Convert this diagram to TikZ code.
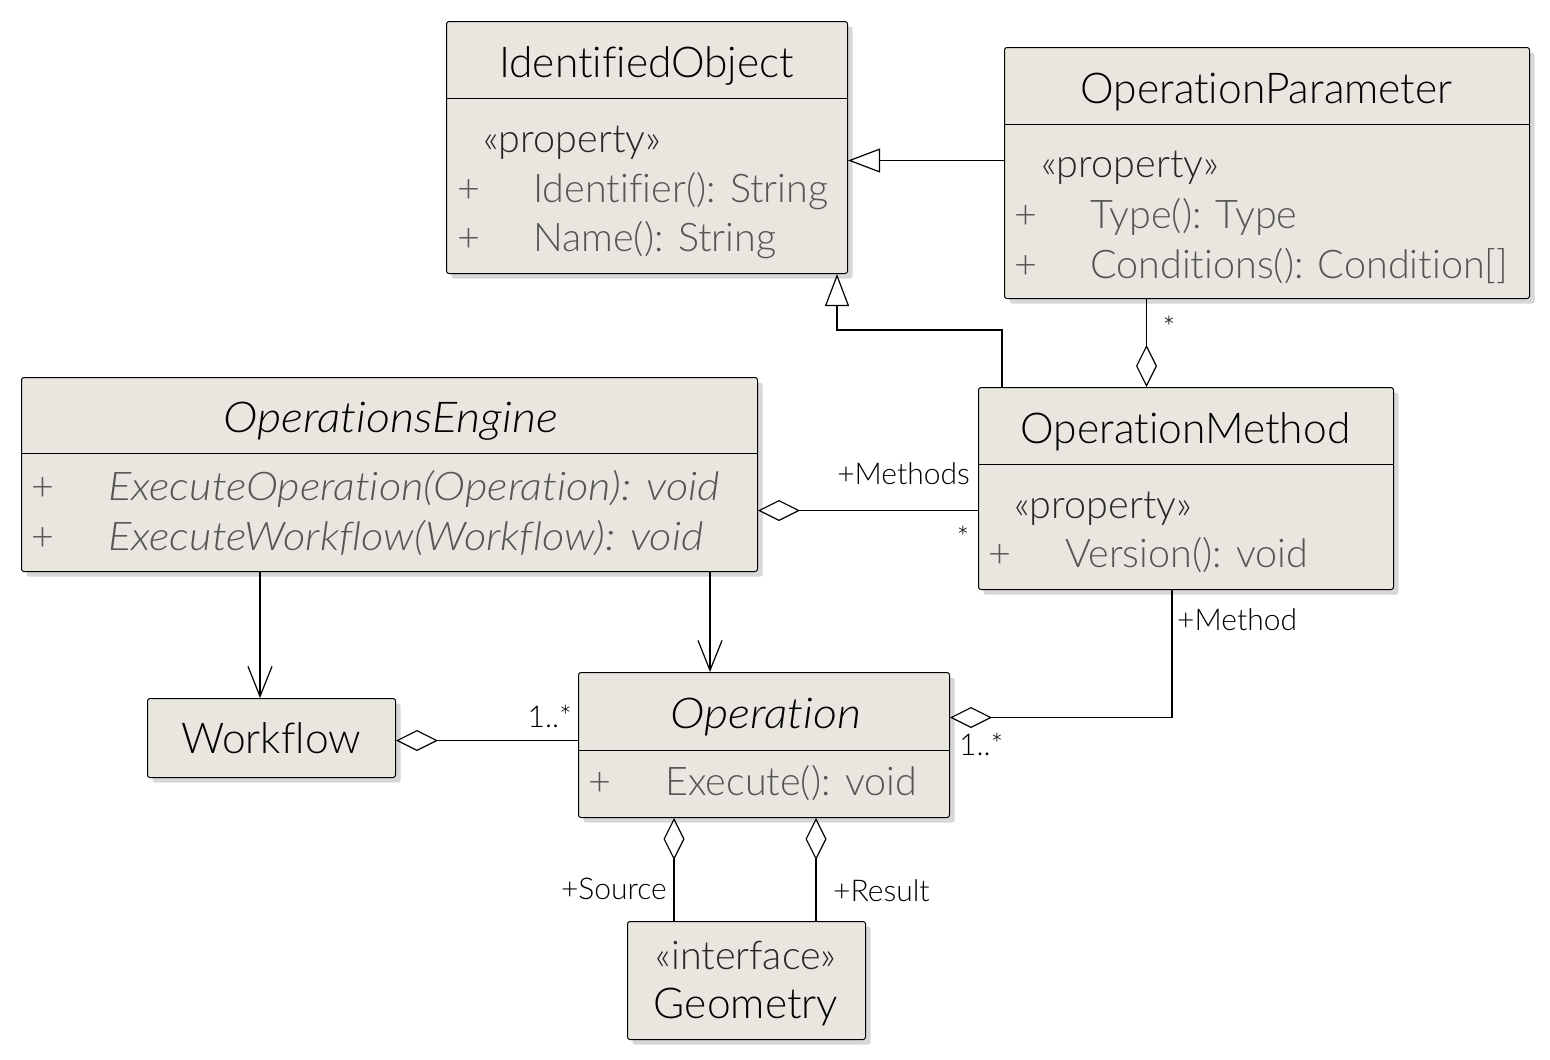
\documentclass[tikz,border=0pt]{standalone}
\usepackage{fontspec}
\setmainfont{Lato}[UprightFont=* Light, ItalicFont=* Light Italic, Ligatures=NoCommon, ItalicFeatures={FakeStretch=1.1}]
\usetikzlibrary{arrows.meta,shadows,calc}
\definecolor{boxfill}{RGB}{233,230,224}
\definecolor{rowgray}{RGB}{85,85,85}
\definecolor{shadowgray}{RGB}{215,215,215}
\begin{document}
\begin{tikzpicture}[x=1pt,y=-1pt,
  umlbox/.style={draw=black, line width=1pt, fill=boxfill, rounded corners=2.5pt, inner sep=0pt, anchor=north west,
    drop shadow={shadow xshift=5pt, shadow yshift=-5pt, opacity=1, fill=shadowgray}},
  sepline/.style={line width=1pt},
  ttl/.style={anchor=base, inner sep=0pt, font=\fontsize{42.5}{46}\selectfont},
  row/.style={anchor=base west, inner sep=0pt, text=rowgray, font=\fontsize{39.5}{42}\selectfont},
  stereo/.style={anchor=base west, inner sep=0pt, text=black!85, font=\fontsize{39.5}{42}\selectfont},
  lbl/.style={inner sep=0pt, font=\fontsize{30}{32}\selectfont},
  conn/.style={line width=1.2pt},
  gen/.style={conn, -{Triangle[open, length=32pt, width=24pt, fill=white]}},
  nav/.style={conn, -{Straight Barb[length=30pt, width=24pt]}},
  aggS/.style={conn, {Diamond[open, length=42pt, width=21pt, fill=white]}-},
]
\useasboundingbox[fill=white] (0,0) rectangle (1550,1060);

% ---- boxes ----
\node[umlbox, minimum width=401pt, minimum height=252pt] (io) at (446,21) {};
\node[umlbox, minimum width=525pt, minimum height=251pt] (opp) at (1004,47) {};
\node[umlbox, minimum width=736pt, minimum height=194pt] (oe) at (21,377) {};
\node[umlbox, minimum width=415pt, minimum height=202pt] (om) at (978,387) {};
\node[umlbox, minimum width=248pt, minimum height=79pt] (wf) at (147,698) {};
\node[umlbox, minimum width=371pt, minimum height=145pt] (opn) at (578,672) {};
\node[umlbox, minimum width=238pt, minimum height=118pt] (geo) at (627,921) {};

% ---- separator lines ----
\draw[sepline] ([yshift=-77pt]io.north west) -- ([yshift=-77pt]io.north east);
\draw[sepline] ([yshift=-77pt]opp.north west) -- ([yshift=-77pt]opp.north east);
\draw[sepline] ([yshift=-76pt]oe.north west) -- ([yshift=-76pt]oe.north east);
\draw[sepline] ([yshift=-77pt]om.north west) -- ([yshift=-77pt]om.north east);
\draw[sepline] ([yshift=-78pt]opn.north west) -- ([yshift=-78pt]opn.north east);

% ---- IdentifiedObject ----
\node[ttl] (ioT) at (646.5,77) {IdentifiedObject};
\node[stereo] (ioS) at (483,152) {«property»};
\node[row] (ioP1) at (457,202) {+};
\node[row] (ioR1) at (533,202) {Identifier(): String};
\node[row] (ioP2) at (457,251) {+};
\node[row] (ioR2) at (533,251) {Name(): String};

% ---- OperationParameter ----
\node[ttl] (oppT) at (1266.5,103) {OperationParameter};
\node[stereo] (oppS) at (1041,177) {«property»};
\node[row] (oppP1) at (1014,228) {+};
\node[row] (oppR1) at (1090,228) {Type(): Type};
\node[row] (oppP2) at (1014,278) {+};
\node[row] (oppR2) at (1090,278) {Conditions(): Condition[]};

% ---- OperationsEngine ----
\node[ttl, font=\fontsize{42.5}{46}\selectfont\itshape] (oeT) at (391,432) {OperationsEngine};
\node[row] (oeP1) at (31,500) {+};
\node[row, font=\fontsize{39.5}{42}\selectfont\itshape] (oeR1) at (108,500) {ExecuteOperation(Operation): void};
\node[row] (oeP2) at (31,550) {+};
\node[row, font=\fontsize{39.5}{42}\selectfont\itshape] (oeR2) at (108,550) {ExecuteWorkflow(Workflow): void};

% ---- OperationMethod ----
\node[ttl] (omT) at (1185.5,443) {OperationMethod};
\node[stereo] (omS) at (1014,518) {«property»};
\node[row] (omP1) at (988,567) {+};
\node[row] (omR1) at (1065,567) {Version(): void};

% ---- Workflow ----
\node[ttl] (wfT) at (271,753) {Workflow};

% ---- Operation ----
\node[ttl, font=\fontsize{42.5}{46}\selectfont\itshape] (opnT) at (766,728) {Operation};
\node[row] (opnP1) at (588,795) {+};
\node[row] (opnR1) at (665,795) {Execute(): void};

% ---- Geometry ----
\node[ttl, text=black!85, font=\fontsize{39.5}{42}\selectfont] (geoS) at (746,969) {«interface»};
\node[ttl] (geoT) at (746,1018) {Geometry};

% ---- connectors ----
% OperationParameter -> IdentifiedObject
\coordinate (c1) at ([yshift=12.5pt]opp.west);
\draw[gen] (c1) -- (c1 -| io.east);
% OperationMethod -> IdentifiedObject
\coordinate (c2) at ([xshift=24pt]om.north west);
\draw[gen] (c2) -- ++(0,-57) -| ([xshift=-11pt]io.south east);
% OperationMethod <>-- OperationParameter
\coordinate (c3) at ([xshift=-39.5pt]om.north);
\draw[aggS] (c3) -- (c3 |- opp.south);
\node[lbl] (l1) at (1169,327) {*};
% OperationsEngine <>-- OperationMethod
\coordinate (c4) at ([yshift=-36pt]oe.east);
\draw[aggS] (c4) -- (c4 -| om.west);
\node[lbl, anchor=base east] (l2) at (970,484) {+Methods};
\node[lbl] (l3) at (963,537) {*};
% OperationsEngine -> Workflow
\coordinate (c5) at ([xshift=239pt]oe.south west);
\draw[nav] (c5) -- (c5 |- wf.north);
% OperationsEngine -> Operation
\coordinate (c6) at ([xshift=689pt]oe.south west);
\draw[nav] (c6) -- (c6 |- opn.north);
% Workflow <>-- Operation
\coordinate (c7) at ([yshift=-2.5pt]wf.east);
\draw[aggS] (c7) -- (c7 -| opn.west);
\node[lbl, anchor=base east] (l4) at (572,727) {1..*};
% Operation <>-- OperationMethod
\coordinate (c8) at ([yshift=27.5pt]opn.east);
\draw[aggS] (c8) -| ([xshift=194pt]om.south west);
\node[lbl, anchor=base west] (l5) at (1177,630) {+Method};
\node[lbl, anchor=base west] (l6) at (959,755) {1..*};
% Operation <>-- Geometry (Source)
\coordinate (c9) at ([xshift=96pt]opn.south west);
\draw[aggS] (c9) -- (c9 |- geo.north);
\node[lbl, anchor=base east] (l7) at (667,899) {+Source};
% Operation <>-- Geometry (Result)
\coordinate (c10) at ([xshift=238pt]opn.south west);
\draw[aggS] (c10) -- (c10 |- geo.north);
\node[lbl, anchor=base west] (l8) at (833,901) {+Result};
\end{tikzpicture}
\end{document}
